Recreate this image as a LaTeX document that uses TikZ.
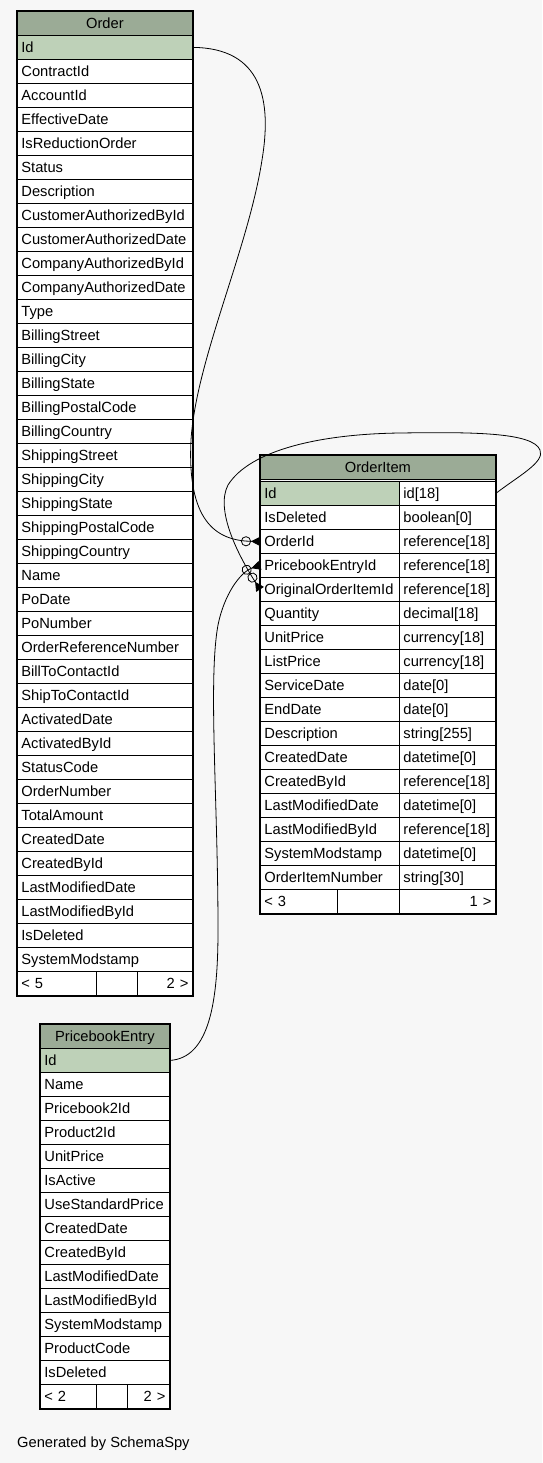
\documentclass[tikz,border=0pt]{standalone}
\usepackage{fontspec}
\setmainfont{Liberation Sans}
\usetikzlibrary{arrows.meta}
\definecolor{hintergrund}{HTML}{F7F7F7}
\definecolor{kopfgruen}{HTML}{9BAB96}
\definecolor{idgruen}{HTML}{BED1B8}
\begin{document}
\begin{tikzpicture}[x=1pt, y=-1pt, every node/.style={font=\fontsize{14.7}{16}\selectfont},
  feld/.style={draw, fill=white, line width=.8pt, anchor=north west, minimum height=24pt,
  inner xsep=4pt, inner ysep=0pt, text height=11pt, text depth=1pt, text width=#1, align=left},
  kopf/.style={feld=#1, fill=kopfgruen, align=center},
  rahmen/.style={draw, line width=1.5pt},
  kraehe/.style={thick, -{Circle[open,length=10pt,width=10pt] Triangle[reversed,length=9pt,width=9pt]}}, ]
\useasboundingbox (0,0) rectangle (542,1463);
\fill[hintergrund] (0,0) rectangle (542,1463);
%Tabelle Order
\node[kopf=167pt] (o-kopf) at (17,11) {Order};
\node[feld=167pt, fill=idgruen] (o-id) at (17,35) {Id};
\foreach \n [count=\i] in {ContractId, AccountId, EffectiveDate, IsReductionOrder, Status,
  Description, CustomerAuthorizedById, CustomerAuthorizedDate, CompanyAuthorizedById,
  CompanyAuthorizedDate, Type, BillingStreet, BillingCity, BillingState, BillingPostalCode,
  BillingCountry, ShippingStreet, ShippingCity, ShippingState, ShippingPostalCode,
  ShippingCountry, Name, PoDate, PoNumber, OrderReferenceNumber, BillToContactId,
  ShipToContactId, ActivatedDate, ActivatedById, StatusCode, OrderNumber, TotalAmount,
  CreatedDate, CreatedById, LastModifiedDate, LastModifiedById, IsDeleted, SystemModstamp}
  \node[feld=167pt] (o-\i) at (17,{35+24*\i}) {\n};
\node[feld=71pt] (o-f1) at (17,971) {< 5};
\node[feld=33pt] (o-f2) at (96,971) {};
\node[feld=47pt, align=right] (o-f3) at (137,971) {2 >};
\draw[rahmen] (o-kopf.north west) rectangle (o-f3.south east);
%Tabelle OrderItem
\node[kopf=227pt] (oi-kopf) at (260,455) {OrderItem};
\node[feld=131pt, fill=idgruen] (oi-0) at (260,481) {Id};
\node[feld=88pt] (oi-t0) at (399,481) {id[18]};
\foreach \n/\typ [count=\i] in {IsDeleted/boolean[0], OrderId/reference[18],
  PricebookEntryId/reference[18], OriginalOrderItemId/reference[18], Quantity/decimal[18],
  UnitPrice/currency[18], ListPrice/currency[18], ServiceDate/date[0], EndDate/date[0],
  Description/string[255], CreatedDate/datetime[0], CreatedById/reference[18],
  LastModifiedDate/datetime[0], LastModifiedById/reference[18], SystemModstamp/datetime[0],
  OrderItemNumber/string[30]}
  {
  \node[feld=131pt] (oi-\i) at (260,{481+24*\i}) {\n};
  \node[feld=88pt] (oi-t\i) at (399,{481+24*\i}) {\typ};
  }
\node[feld=69pt] (oi-f1) at (260,889) {< 3};
\node[feld=54pt] (oi-f2) at (337,889) {};
\node[feld=88pt, align=right] (oi-f3) at (399,889) {1 >};
\draw[rahmen, line width=2.5pt] (oi-kopf.north west) rectangle (oi-f3.south east);
%Tabelle PricebookEntry
\node[kopf=121pt] (pe-kopf) at (40,1024) {PricebookEntry};
\node[feld=121pt, fill=idgruen] (pe-id) at (40,1048) {Id};
\foreach \n [count=\i] in {Name, Pricebook2Id, Product2Id, UnitPrice, IsActive,
  UseStandardPrice, CreatedDate, CreatedById, LastModifiedDate, LastModifiedById,
  SystemModstamp, ProductCode, IsDeleted}
  \node[feld=121pt] (pe-\i) at (40,{1048+24*\i}) {\n};
\node[feld=48pt] (pe-f1) at (40,1384) {< 2};
\node[feld=23pt] (pe-f2) at (96,1384) {};
\node[feld=34pt, align=right] (pe-f3) at (127,1384) {2 >};
\draw[rahmen] (pe-kopf.north west) rectangle (pe-f3.south east);
%Verbindungen
\draw[kraehe] (o-id.east) .. controls (262,48) and (272,100) .. (262,160)
  .. controls (248,250) and (196,360) .. (191,440)
  .. controls (187,520) and (215,541) .. (oi-2.west);
\draw[kraehe] (pe-id.east) .. controls (210,1058) and (218,1000) .. (218,930)
  .. controls (218,800) and (208,680) .. (218,625)
  .. controls (224,595) and (240,572) .. (oi-3.west);
\draw[kraehe] (oi-t0.east) .. controls (520,475) and (545,462) .. (540,450)
  .. controls (533,432) and (470,432) .. (400,433)
  .. controls (320,434) and (250,450) .. (228,485)
  .. controls (215,510) and (238,555) .. (oi-4.west);
\node[anchor=west, inner sep=0pt] (erzeugt) at (17,1444) {Generated by SchemaSpy};
\end{tikzpicture}
\end{document}
